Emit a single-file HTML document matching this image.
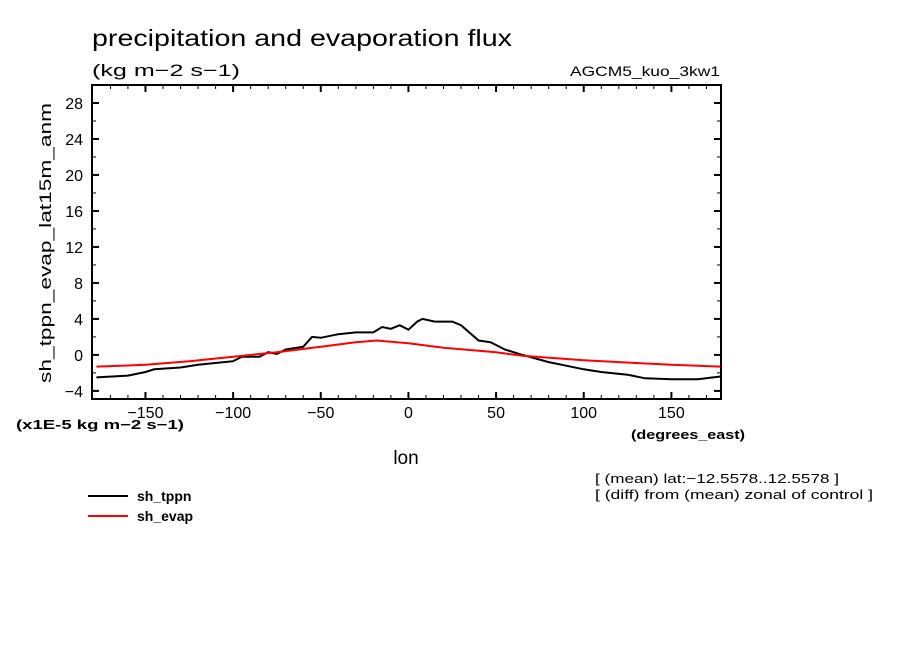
<!DOCTYPE html>
<html><head><meta charset="utf-8"><style>
html,body{margin:0;padding:0;background:#fff;}
svg{display:block;font-family:"Liberation Sans",sans-serif;}
</style></head><body>
<svg id="chart" width="904" height="654" viewBox="0 0 904 654">
<text x="92" y="46" font-size="23" textLength="420" lengthAdjust="spacingAndGlyphs">precipitation and evaporation flux</text>
<text x="92" y="76" font-size="17" textLength="148" lengthAdjust="spacingAndGlyphs">(kg m−2 s−1)</text>
<text x="720" y="76" font-size="14" text-anchor="end" textLength="150" lengthAdjust="spacingAndGlyphs">AGCM5_kuo_3kw1</text>
<text transform="translate(51,243) rotate(-90)" font-size="17" text-anchor="middle" textLength="280" lengthAdjust="spacingAndGlyphs">sh_tppn_evap_lat15m_anm</text>
<text x="16" y="429" font-size="13" font-weight="bold" textLength="168" lengthAdjust="spacingAndGlyphs">(x1E-5 kg m−2 s−1)</text>
<text x="745" y="439" font-size="13" font-weight="bold" text-anchor="end" textLength="114" lengthAdjust="spacingAndGlyphs">(degrees_east)</text>
<text x="406" y="464" font-size="19" text-anchor="middle">lon</text>
<text x="595" y="483" font-size="13" textLength="244" lengthAdjust="spacingAndGlyphs">[ (mean) lat:−12.5578..12.5578 ]</text>
<text x="595" y="499" font-size="13" textLength="278" lengthAdjust="spacingAndGlyphs">[ (diff) from (mean) zonal of control ]</text>
<g>
<line x1="88" y1="496" x2="128" y2="496" stroke="#000" stroke-width="2"/>
<text x="137" y="501" font-size="14" font-weight="bold">sh_tppn</text>
<line x1="88" y1="516" x2="128" y2="516" stroke="#f00" stroke-width="2"/>
<text x="137" y="521" font-size="14" font-weight="bold">sh_evap</text>
</g>
<g id="axes"></g>
<g id="series"></g>
</svg>
<script>
const tppnLon = [-178,-160,-150,-145,-130,-120,-100,-95,-85,-80,-75,-70,-60,-55,-50,-40,-30,-20,-15,-10,-5,0,5,8,15,25,30,40,47,55,65,80,90,100,110,125,135,150,165,178];
const tppnVal = [-2.5,-2.3,-1.9,-1.6,-1.4,-1.1,-0.7,-0.2,-0.2,0.3,0.1,0.6,0.9,2.0,1.9,2.3,2.5,2.5,3.1,2.9,3.3,2.8,3.7,4.0,3.7,3.7,3.3,1.6,1.4,0.6,0.0,-0.8,-1.2,-1.6,-1.9,-2.2,-2.6,-2.7,-2.7,-2.4];
const evapLon = [-178,-150,-125,-100,-75,-50,-30,-18,0,20,50,65,100,130,150,178];
const evapVal = [-1.3,-1.1,-0.7,-0.2,0.3,0.9,1.4,1.6,1.3,0.8,0.3,-0.1,-0.6,-0.9,-1.1,-1.3];
const xTicks = [-150,-100,-50,0,50,100,150];
const yTicks = [-4,0,4,8,12,16,20,24,28];

const NS="http://www.w3.org/2000/svg";
const L=92,R=721,T=85,B=399;
const X0=-180.5,X1=178.3,Y0=-4.9,Y1=30;
function sx(v){return L+(v-X0)/(X1-X0)*(R-L);}
function sy(v){return B-(v-Y0)/(Y1-Y0)*(B-T);}
function mk(tag,attrs,parent){const e=document.createElementNS(NS,tag);for(const k in attrs)e.setAttribute(k,attrs[k]);parent.appendChild(e);return e;}
const axes=document.getElementById('axes');
const frame=mk('rect',{x:L,y:T,width:R-L,height:B-T,fill:'none',stroke:'#000','stroke-width':2},axes);


for(let v=-170;v<=170;v+=10){
  const maj=v%50===0;const len=maj?7:4;const x=sx(v);
  const t1=mk('line',{x1:x,y1:B,x2:x,y2:B-len,stroke:'#000','stroke-width':maj?2:1},axes);
  
  
  const t2=mk('line',{x1:x,y1:T,x2:x,y2:T+len,stroke:'#000','stroke-width':maj?2:1},axes);
  
  
}
xTicks.forEach(v=>{
  const t=mk('text',{x:sx(v),y:418,'font-size':16,'text-anchor':'middle'},axes);
  t.textContent=v<0?'−'+Math.abs(v):String(v);
  
  
});
for(let v=-4;v<=30;v+=2){
  const maj=v%4===0;const len=maj?7:4;const y=sy(v);
  const t1=mk('line',{x1:L,y1:y,x2:L+len,y2:y,stroke:'#000','stroke-width':maj?2:1},axes);
  
  
  const t2=mk('line',{x1:R,y1:y,x2:R-len,y2:y,stroke:'#000','stroke-width':maj?2:1},axes);
  
  
}
yTicks.forEach(v=>{
  const t=mk('text',{x:83,y:sy(v)+6,'font-size':16,'text-anchor':'end'},axes);
  t.textContent=v<0?'−'+Math.abs(v):String(v);
  
  
});
const series=document.getElementById('series');
function line(lons,vals,color,name){
  const pts=lons.map((l,i)=>sx(l).toFixed(1)+','+sy(vals[i]).toFixed(1)).join(' ');
  const p=mk('polyline',{points:pts,fill:'none',stroke:color,'stroke-width':2},series);
  
  
}
line(tppnLon,tppnVal,'#000','line-sh-tppn');
line(evapLon,evapVal,'#f00','line-sh-evap');
</script>
</body></html>
